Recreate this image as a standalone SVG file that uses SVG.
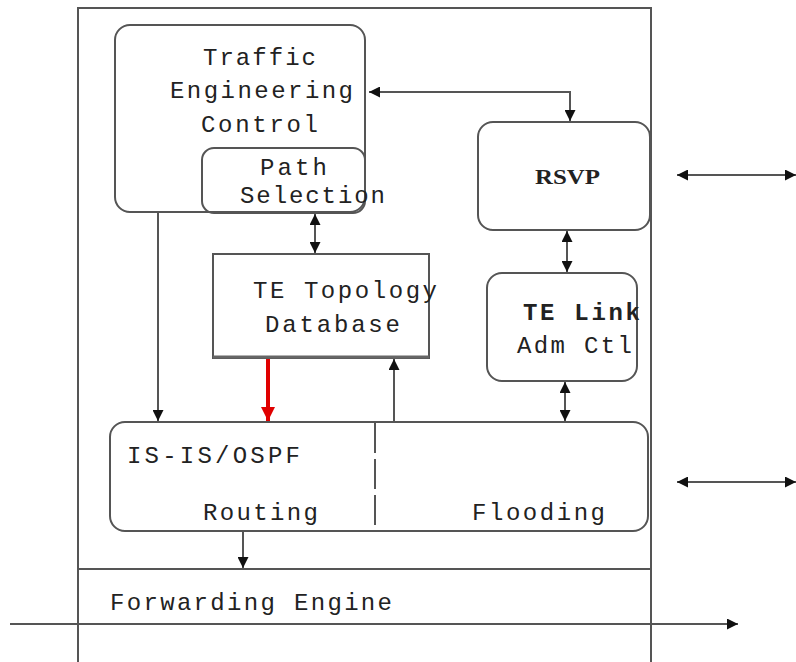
<svg xmlns="http://www.w3.org/2000/svg" width="796" height="662" viewBox="0 0 796 662">
<style>
.box{fill:none;stroke:#555;stroke-width:2}
.t{font-family:"Liberation Mono","DejaVu Sans Mono",monospace;font-size:24px;fill:#222}
.b{font-weight:bold}
.c{fill:none;stroke:#555;stroke-width:2}
</style>
<defs>
<marker id="ah" viewBox="0 0 10 10" refX="10" refY="5" markerWidth="11" markerHeight="11" markerUnits="userSpaceOnUse" orient="auto-start-reverse">
<path d="M0,0 L10,5 L0,10 z" fill="#111"/>
</marker>
<marker id="ahr" viewBox="0 0 10 10" refX="10" refY="5" markerWidth="14" markerHeight="14" markerUnits="userSpaceOnUse" orient="auto">
<path d="M0,0 L10,5 L0,10 z" fill="#e00000"/>
</marker>
</defs>
<rect width="796" height="662" fill="#fff"/>
<g id="frame">
<path class="box" d="M78,662 V8 H651 V662"/>
<line class="box" x1="78" y1="569" x2="651" y2="569"/>
</g>
<g id="te-control">
<rect class="box" x="115" y="25" width="250" height="187" rx="15"/>
<text class="t" x="203" y="65" textLength="113" lengthAdjust="spacing">Traffic</text>
<text class="t" x="170" y="98" textLength="183" lengthAdjust="spacing">Engineering</text>
<text class="t" x="201" y="132" textLength="117" lengthAdjust="spacing">Control</text>
</g>
<g id="path-selection">
<rect class="box" x="202" y="148" width="163" height="65" rx="12"/>
<text class="t" x="260" y="175" textLength="67" lengthAdjust="spacing">Path</text>
<text class="t" x="240" y="203" textLength="145" lengthAdjust="spacing">Selection</text>
</g>
<g id="rsvp">
<rect class="box" x="478" y="122" width="172" height="108" rx="15"/>
<text class="t b" x="535" y="184" textLength="65" lengthAdjust="spacingAndGlyphs" style="font-family:'Liberation Serif',serif;font-size:22px">RSVP</text>
</g>
<g id="te-topology">
<rect class="box" x="213" y="254" width="216" height="104"/>
<line x1="213" y1="357" x2="429" y2="357" stroke="#666" stroke-width="3"/>
<text class="t" x="253" y="298" textLength="184" lengthAdjust="spacing">TE Topology</text>
<text class="t" x="265" y="332" textLength="135" lengthAdjust="spacing">Database</text>
</g>
<g id="te-link">
<rect class="box" x="487" y="273" width="150" height="108" rx="15"/>
<text class="t b" x="523" y="320" textLength="117" lengthAdjust="spacing">TE Link</text>
<text class="t" x="517" y="353" textLength="115" lengthAdjust="spacing">Adm Ctl</text>
</g>
<g id="isis-ospf">
<rect class="box" x="110" y="422" width="538" height="109" rx="15"/>
<line x1="375" y1="423" x2="375" y2="530" stroke="#555" stroke-width="2" stroke-dasharray="30,6"/>
<text class="t" x="127" y="463" textLength="173" lengthAdjust="spacing">IS-IS/OSPF</text>
<text class="t" x="203" y="520" textLength="115" lengthAdjust="spacing">Routing</text>
<text class="t" x="472" y="520" textLength="133" lengthAdjust="spacing">Flooding</text>
</g>
<g id="forwarding-engine">
<text class="t" x="110" y="610" textLength="282" lengthAdjust="spacing">Forwarding Engine</text>
</g>
<g id="connectors">
<path class="c" d="M369,92 H570 V121" marker-start="url(#ah)" marker-end="url(#ah)"/>
<line class="c" x1="315" y1="214" x2="315" y2="253" marker-start="url(#ah)" marker-end="url(#ah)"/>
<line class="c" x1="567" y1="231" x2="567" y2="272" marker-start="url(#ah)" marker-end="url(#ah)"/>
<line class="c" x1="565" y1="382" x2="565" y2="421" marker-start="url(#ah)" marker-end="url(#ah)"/>
<line class="c" x1="158" y1="212" x2="158" y2="421" marker-end="url(#ah)"/>
<line x1="268" y1="359" x2="268" y2="421" stroke="#e00000" stroke-width="4" marker-end="url(#ahr)"/>
<line class="c" x1="394" y1="422" x2="394" y2="359" marker-end="url(#ah)"/>
<line class="c" x1="243" y1="531" x2="243" y2="568" marker-end="url(#ah)"/>
<line class="c" x1="677" y1="175" x2="796" y2="175" marker-start="url(#ah)" marker-end="url(#ah)"/>
<line class="c" x1="677" y1="482" x2="796" y2="482" marker-start="url(#ah)" marker-end="url(#ah)"/>
<line class="c" x1="10" y1="624" x2="738" y2="624" marker-end="url(#ah)"/>
</g>
</svg>
